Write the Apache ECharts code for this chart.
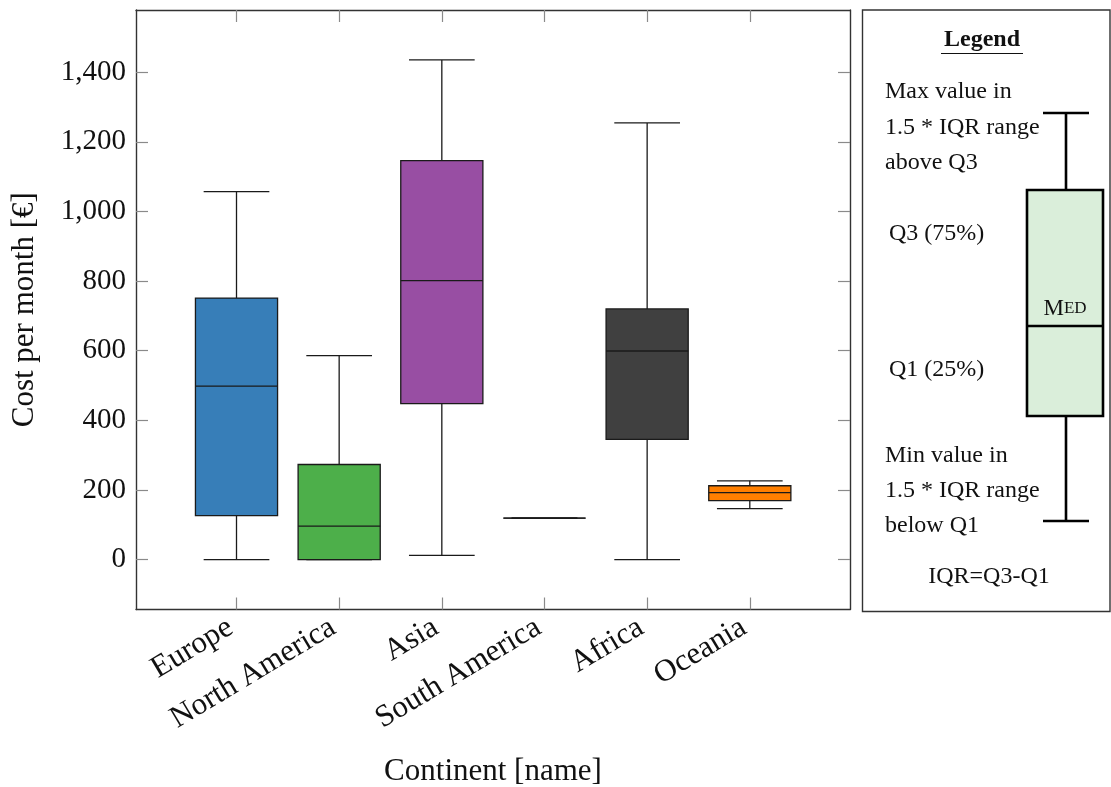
<!DOCTYPE html>
<html>
<head>
<meta charset="utf-8">
<script src="https://cdn.jsdelivr.net/npm/echarts@6/dist/echarts.min.js"></script>
<style>
html,body{margin:0;padding:0;background:#fff;}
#chart{width:1111px;height:787px;}
</style>
</head>
<body>
<div id="chart"></div>
<script>
// ---- data ----
var categories = ['Europe', 'North America', 'Asia', 'South America', 'Africa', 'Oceania'];
var minVals = [0, 0, 12, 119, 0, 146];
var q1Vals  = [126, 0, 448, 119, 345, 169];
var medVals = [498, 96, 801, 119, 599, 192];
var q3Vals  = [751, 273, 1146, 119, 720, 212];
var maxVals = [1057, 586, 1435, 119, 1254, 226];
var boxColors = ['#377eb8', '#4daf4a', '#984ea3', '#e41a1c', '#404040', '#ff7f00'];
var yTicks = [0, 200, 400, 600, 800, 1000, 1200, 1400];
var xTicks = [1, 2, 3, 4, 5, 6];

var FONT = '"Liberation Serif", "DejaVu Serif", serif';
var BOX_W = 0.8, CAP_W = 0.64;

var data = categories.map(function (c, i) {
  return [i + 1, minVals[i], q1Vals[i], medVals[i], q3Vals[i], maxVals[i]];
});

function renderItem(params, api) {
  var x = api.value(0);
  var lo = api.coord([x, api.value(1)]);
  var q1 = api.coord([x, api.value(2)]);
  var md = api.coord([x, api.value(3)]);
  var q3 = api.coord([x, api.value(4)]);
  var hi = api.coord([x, api.value(5)]);
  var bw = api.size([BOX_W, 0])[0];
  var cw = api.size([CAP_W, 0])[0];
  var cx = lo[0];
  var ls = {stroke: '#1a1a1a', lineWidth: 1.3};
  return {
    type: 'group',
    children: [
      {type: 'line', shape: {x1: cx, y1: lo[1], x2: cx, y2: q1[1]}, style: ls},
      {type: 'line', shape: {x1: cx, y1: q3[1], x2: cx, y2: hi[1]}, style: ls},
      {type: 'line', shape: {x1: cx - cw / 2, y1: lo[1], x2: cx + cw / 2, y2: lo[1]}, style: ls},
      {type: 'line', shape: {x1: cx - cw / 2, y1: hi[1], x2: cx + cw / 2, y2: hi[1]}, style: ls},
      {type: 'rect', shape: {x: cx - bw / 2, y: q3[1], width: bw, height: q1[1] - q3[1]},
        style: {fill: boxColors[params.dataIndex], stroke: '#1a1a1a', lineWidth: 1.3}},
      {type: 'line', shape: {x1: cx - bw / 2, y1: md[1], x2: cx + bw / 2, y2: md[1]}, style: ls}
    ]
  };
}

var tickStyle = {show: true, inside: true, length: 12, lineStyle: {color: '#8a8a8a', width: 1.2}};
var lineStyle = {show: true, onZero: false, lineStyle: {color: '#333', width: 1.4}};

var chart = echarts.init(document.getElementById('chart'), null, {renderer: 'canvas'});

// legend panel graphics
var LX = 1066, BOXL = 1027, BOXR = 1103;
var LFS = 24;
var legendText = function (t, x, y, align) {
  return {type: 'text', style: {text: t, x: x, y: y, fontSize: LFS, fontFamily: FONT, fill: '#111',
    align: align || 'left', verticalAlign: 'middle'}};
};
var graphics = [
  {type: 'rect', shape: {x: 862.5, y: 10, width: 247.5, height: 601.5}, style: {fill: 'none', stroke: '#333', lineWidth: 1.4}},
  {type: 'text', style: {text: 'Legend', x: 982, y: 40, fontSize: LFS, fontWeight: 'bold', fontFamily: FONT, fill: '#111', align: 'center', verticalAlign: 'middle'}},
  {type: 'line', shape: {x1: 941, y1: 53.5, x2: 1023, y2: 53.5}, style: {stroke: '#111', lineWidth: 1.2}},
  legendText('Max value in', 885, 92),
  legendText('1.5 * IQR range', 885, 128),
  legendText('above Q3', 885, 163),
  legendText('Q3 (75%)', 889, 234),
  legendText('Q1 (25%)', 889, 370),
  legendText('Min value in', 885, 456),
  legendText('1.5 * IQR range', 885, 491),
  legendText('below Q1', 885, 526),
  legendText('IQR=Q3-Q1', 989, 577, 'center'),
  {type: 'line', shape: {x1: LX, y1: 113, x2: LX, y2: 190}, style: {stroke: '#000', lineWidth: 2.6}},
  {type: 'line', shape: {x1: LX, y1: 416, x2: LX, y2: 521}, style: {stroke: '#000', lineWidth: 2.6}},
  {type: 'line', shape: {x1: 1043, y1: 113, x2: 1089, y2: 113}, style: {stroke: '#000', lineWidth: 2.6}},
  {type: 'line', shape: {x1: 1043, y1: 521, x2: 1089, y2: 521}, style: {stroke: '#000', lineWidth: 2.6}},
  {type: 'rect', shape: {x: BOXL, y: 190, width: BOXR - BOXL, height: 226}, style: {fill: '#daeeda', stroke: '#000', lineWidth: 2.6}},
  {type: 'line', shape: {x1: BOXL, y1: 326, x2: BOXR, y2: 326}, style: {stroke: '#000', lineWidth: 2.6}},
  {type: 'text', style: {text: '{a|M}{b|ED}', x: 1065, y: 309, align: 'center', verticalAlign: 'middle',
    rich: {a: {fontSize: 23, fontFamily: FONT, fill: '#111'}, b: {fontSize: 17, fontFamily: FONT, fill: '#111'}}}}
];

var option = {
  animation: false,
  backgroundColor: '#fff',
  grid: {left: 136, top: 10, width: 714, height: 599.5, containLabel: false, outerBoundsMode: 'none'},
  xAxis: [
    {
      type: 'value', position: 'bottom', min: 0.021, max: 6.976,
      name: 'Continent [name]', nameLocation: 'middle', nameGap: 147,
      nameTextStyle: {fontSize: 31, fontFamily: FONT, color: '#111', verticalAlign: 'top'},
      axisLine: lineStyle,
      axisTick: Object.assign({customValues: xTicks}, tickStyle),
      axisLabel: {customValues: xTicks, rotate: 31, margin: 12, padding: [0, 7, 0, 0], fontSize: 31, fontFamily: FONT, color: '#111',
        formatter: function (v) { return categories[Math.round(v) - 1] || ''; }},
      splitLine: {show: false}
    },
    {
      type: 'value', position: 'top', min: 0.021, max: 6.976,
      axisLine: lineStyle,
      axisTick: Object.assign({customValues: xTicks}, tickStyle),
      axisLabel: {show: false},
      splitLine: {show: false}
    }
  ],
  yAxis: [
    {
      type: 'value', position: 'left', min: -143.5, max: 1578.5,
      name: 'Cost per month [€]', nameLocation: 'middle', nameGap: 96, nameRotate: 90,
      nameTextStyle: {fontSize: 31, fontFamily: FONT, color: '#111'},
      axisLine: lineStyle,
      axisTick: Object.assign({customValues: yTicks}, tickStyle),
      axisLabel: {customValues: yTicks, margin: 10, fontSize: 29, fontFamily: FONT, color: '#111',
        formatter: function (v) { return Number(v).toLocaleString('en-US'); }},
      splitLine: {show: false}
    },
    {
      type: 'value', position: 'right', min: -143.5, max: 1578.5,
      axisLine: lineStyle,
      axisTick: Object.assign({customValues: yTicks}, tickStyle),
      axisLabel: {show: false},
      splitLine: {show: false}
    }
  ],
  series: [{
    type: 'custom',
    renderItem: renderItem,
    xAxisIndex: 0, yAxisIndex: 0,
    encode: {x: 0, y: [1, 2, 3, 4, 5]},
    data: data,
    clip: false,
    z: 5
  }],
  graphic: graphics
};
chart.setOption(option);
</script>
</body>
</html>
